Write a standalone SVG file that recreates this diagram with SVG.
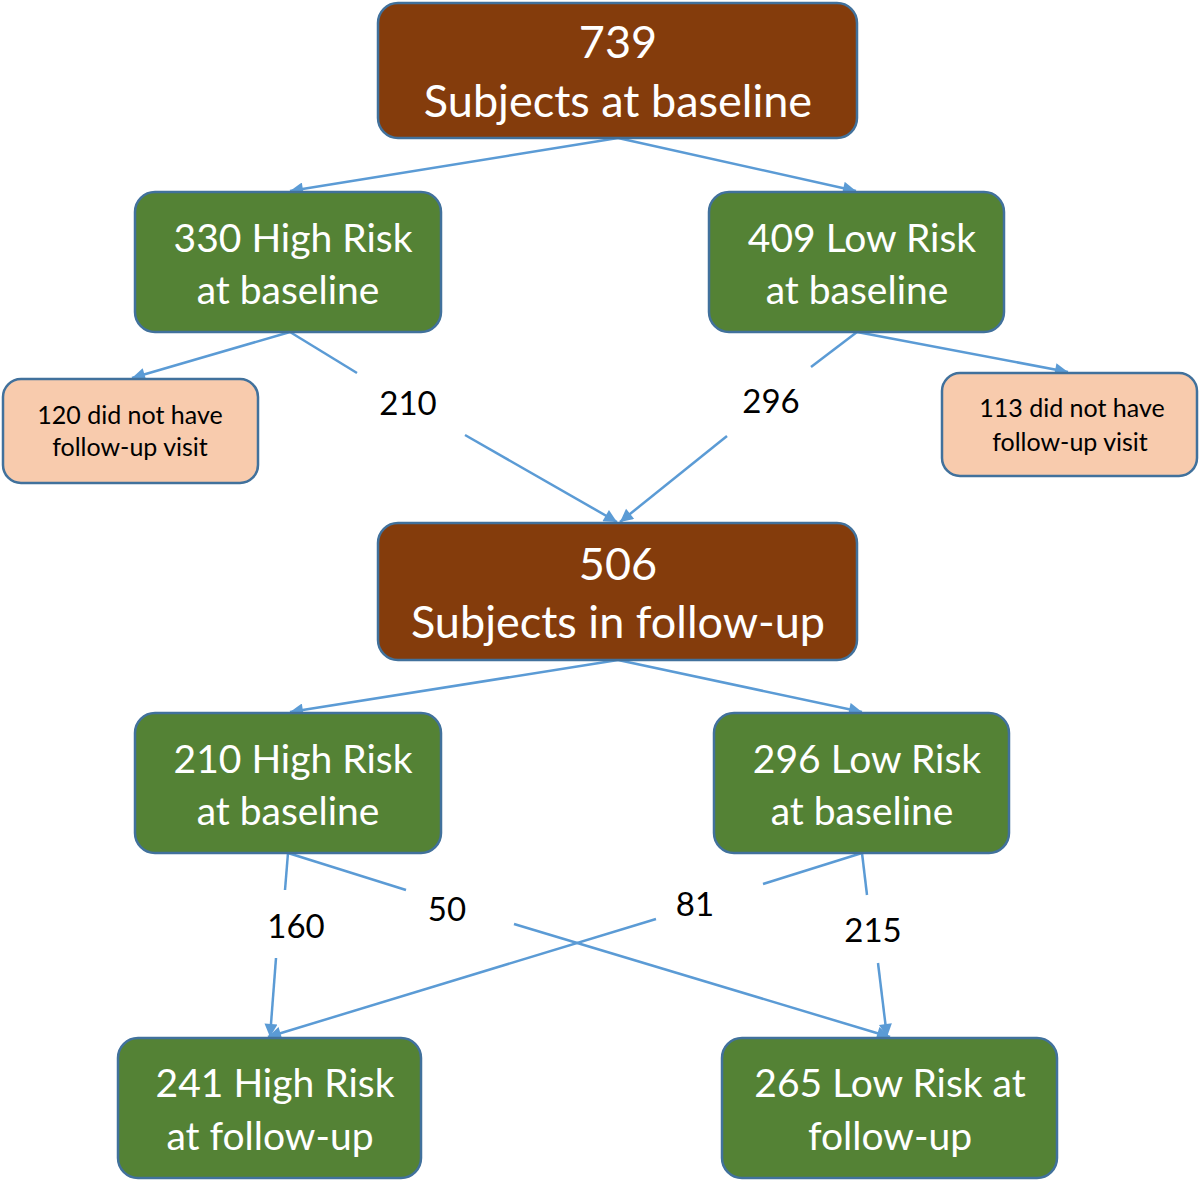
<svg xmlns="http://www.w3.org/2000/svg" width="1200" height="1181" viewBox="0 0 1200 1181">
<defs>
<marker id="arr" viewBox="0 0 10 10" refX="10" refY="5" markerWidth="17" markerHeight="13" markerUnits="userSpaceOnUse" orient="auto">
<path d="M0,0 L10,5 L0,10 Z" fill="#5B9BD5"/>
</marker>
<style>
.brown{fill:#843C0C;stroke:#41719C;stroke-width:2.5}
.green{fill:#548235;stroke:#41719C;stroke-width:2.5}
.orange{fill:#F8CBAD;stroke:#41719C;stroke-width:2.5}
.big{font-family:Lato,"Liberation Sans",sans-serif;font-size:45px;fill:#fff;text-anchor:middle}
.mid{font-family:Lato,"Liberation Sans",sans-serif;font-size:39px;fill:#fff;text-anchor:middle}
.small{font-family:Lato,"Liberation Sans",sans-serif;font-size:25px;fill:#000;text-anchor:middle}
.lbl{font-family:Lato,"Liberation Sans",sans-serif;font-size:33px;fill:#000;text-anchor:middle}
.ln{stroke:#5B9BD5;stroke-width:2.5;fill:none}
</style>
</defs>
<g id="connectors">
<line class="ln" x1="618" y1="138" x2="290" y2="191" marker-end="url(#arr)"/>
<line class="ln" x1="618" y1="138" x2="856" y2="191" marker-end="url(#arr)"/>
<line class="ln" x1="290" y1="332" x2="132" y2="378" marker-end="url(#arr)"/>
<line class="ln" x1="290" y1="332" x2="357" y2="373"/>
<line class="ln" x1="465" y1="435" x2="617" y2="522" marker-end="url(#arr)"/>
<line class="ln" x1="857" y1="332" x2="1068" y2="372" marker-end="url(#arr)"/>
<line class="ln" x1="857" y1="332" x2="811" y2="367"/>
<line class="ln" x1="727" y1="436" x2="620" y2="522" marker-end="url(#arr)"/>
<line class="ln" x1="618" y1="660" x2="290" y2="712" marker-end="url(#arr)"/>
<line class="ln" x1="618" y1="660" x2="862" y2="712" marker-end="url(#arr)"/>
<line class="ln" x1="288" y1="853" x2="285" y2="890"/>
<line class="ln" x1="276" y1="958" x2="270" y2="1037" marker-end="url(#arr)"/>
<line class="ln" x1="288" y1="853" x2="406" y2="890"/>
<line class="ln" x1="514" y1="924" x2="890" y2="1037" marker-end="url(#arr)"/>
<line class="ln" x1="862" y1="853" x2="763" y2="884"/>
<line class="ln" x1="656" y1="919" x2="268" y2="1037" marker-end="url(#arr)"/>
<line class="ln" x1="862" y1="853" x2="867" y2="895"/>
<line class="ln" x1="878" y1="963" x2="887" y2="1037" marker-end="url(#arr)"/>
<text class="lbl" x="408" y="415">210</text>
<text class="lbl" x="771" y="413">296</text>
<text class="lbl" x="296" y="938">160</text>
<text class="lbl" x="447" y="921">50</text>
<text class="lbl" x="695" y="916">81</text>
<text class="lbl" x="873" y="942">215</text>
</g>
<g id="n739">
<rect class="brown" x="378" y="3" width="479" height="135" rx="20"/>
<text class="big" x="618" y="58">739</text>
<text class="big" x="618" y="117">Subjects at baseline</text>
</g>
<g id="n330">
<rect class="green" x="135" y="192" width="306" height="140" rx="20"/>
<text class="mid" x="293" y="252">330 High Risk</text>
<text class="mid" x="288" y="304">at baseline</text>
</g>
<g id="n409">
<rect class="green" x="709" y="192" width="295" height="140" rx="20"/>
<text class="mid" x="862" y="252">409 Low Risk</text>
<text class="mid" x="857" y="304">at baseline</text>
</g>
<g id="n120">
<rect class="orange" x="3" y="379" width="255" height="104" rx="18"/>
<text class="small" x="130" y="424">120 did not have</text>
<text class="small" x="130" y="456">follow-up visit</text>
</g>
<g id="n113">
<rect class="orange" x="942" y="373" width="255" height="103" rx="18"/>
<text class="small" x="1072" y="417">113 did not have</text>
<text class="small" x="1070" y="451">follow-up visit</text>
</g>
<g id="n506">
<rect class="brown" x="378" y="523" width="479" height="137" rx="20"/>
<text class="big" x="618" y="580">506</text>
<text class="big" x="618" y="638">Subjects in follow-up</text>
</g>
<g id="n210">
<rect class="green" x="135" y="713" width="306" height="140" rx="20"/>
<text class="mid" x="293" y="773">210 High Risk</text>
<text class="mid" x="288" y="825">at baseline</text>
</g>
<g id="n296">
<rect class="green" x="714" y="713" width="295" height="140" rx="20"/>
<text class="mid" x="867" y="773">296 Low Risk</text>
<text class="mid" x="862" y="825">at baseline</text>
</g>
<g id="n241">
<rect class="green" x="118" y="1038" width="303" height="140" rx="20"/>
<text class="mid" x="275" y="1097">241 High Risk</text>
<text class="mid" x="270" y="1150">at follow-up</text>
</g>
<g id="n265">
<rect class="green" x="722" y="1038" width="335" height="140" rx="20"/>
<text class="mid" x="890" y="1097">265 Low Risk at</text>
<text class="mid" x="890" y="1150">follow-up</text>
</g>
</svg>
